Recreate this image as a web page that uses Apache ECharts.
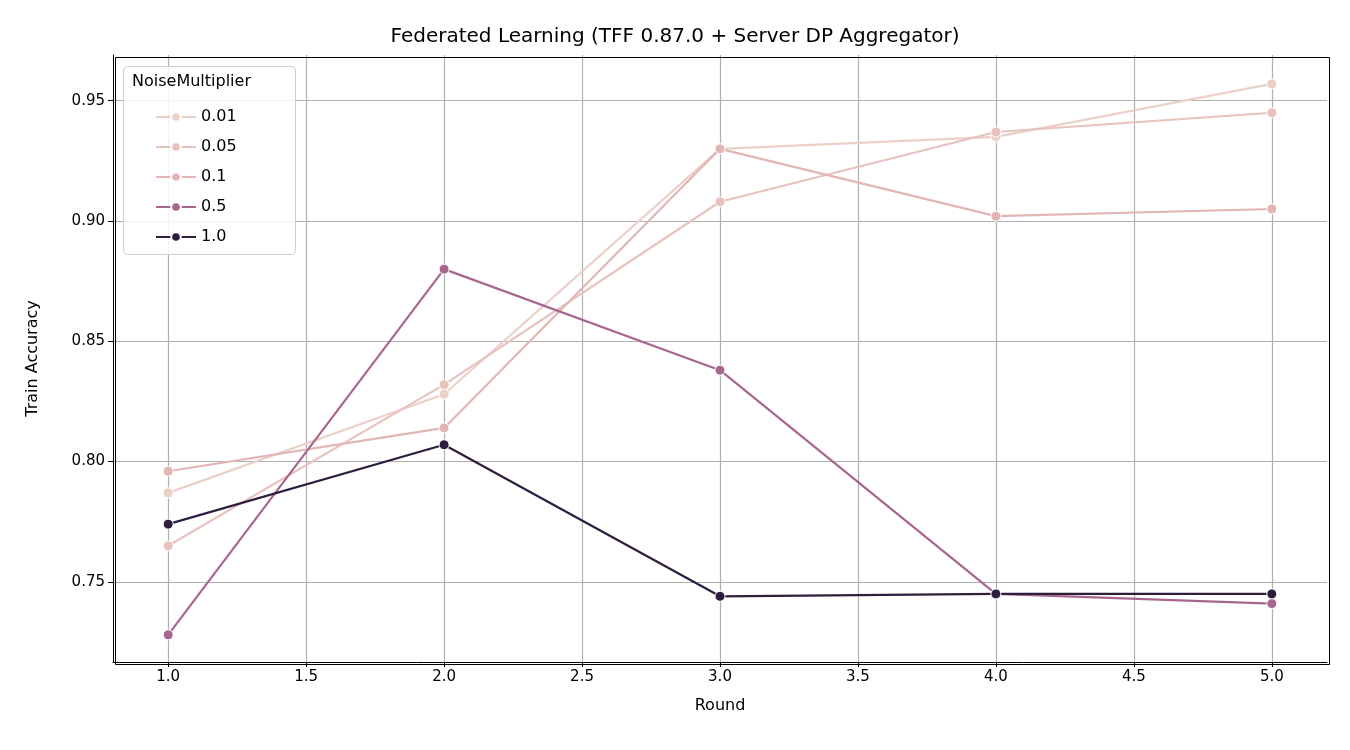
<!DOCTYPE html>
<html>
<head>
<meta charset="utf-8">
<script src="https://cdn.jsdelivr.net/npm/echarts@6/dist/echarts.min.js"></script>
<style>html,body{margin:0;padding:0;background:#fff}#chart{width:1350px;height:750px}</style>
</head>
<body>
<div id="chart"></div>
<script>
// rounds and train accuracy per noise multiplier
const rounds = [1, 2, 3, 4, 5];
const noiseLevels = ['0.01', '0.05', '0.1', '0.5', '1.0'];
const acc001 = [0.787, 0.828, 0.930, 0.935, 0.957];
const acc005 = [0.765, 0.832, 0.908, 0.937, 0.945];
const acc01 = [0.796, 0.814, 0.930, 0.902, 0.905];
const acc05 = [0.728, 0.880, 0.838, 0.745, 0.741];
const acc10 = [0.774, 0.807, 0.744, 0.745, 0.745];
const xTicks = [1.0, 1.5, 2.0, 2.5, 3.0, 3.5, 4.0, 4.5, 5.0];
const yTicks = [0.75, 0.80, 0.85, 0.90, 0.95];

const colors = ['#ebd0c8', '#e8c3bd', '#e3b5b5', '#a8668f', '#2d1e3e'];
const allAcc = [acc001, acc005, acc01, acc05, acc10];

let myChart = echarts.init(document.getElementById('chart'));
let font = 'DejaVu Sans';

let series = noiseLevels.map(function(name, i){
    return {
        name: name,
        type: 'line',
        data: rounds.map(function(r, j){ return [r, allAcc[i][j]]; }),
        symbol: 'circle',
        symbolSize: 10,
        itemStyle: {color: colors[i], borderColor: '#fff', borderWidth: 1},
        lineStyle: {color: colors[i], width: 2.2},
        z: 3 + i
    };
});

let option = {
    animation: false,
    textStyle: {fontFamily: font},
    title: {
        text: 'Federated Learning (TFF 0.87.0 + Server DP Aggregator)',
        left: 'center', top: 22,
        textStyle: {fontFamily: font, fontSize: 20, fontWeight: 'normal', color: '#000'}
    },
    graphic: [
        {type: 'rect', left: 113, top: 55, shape: {width: 1214, height: 607},
         style: {fill: 'none', stroke: '#000', lineWidth: 1}, z: 9, silent: true},
        {type: 'rect', left: 123, top: 66, shape: {width: 172, height: 188, r: 4},
         style: {fill: 'rgba(255,255,255,0.85)', stroke: '#ccc', lineWidth: 1}, z: 10},
        {type: 'text', left: 132, top: 74,
         style: {text: 'NoiseMultiplier', fontFamily: font, fontSize: 16, fill: '#000'}, z: 11}
    ],
    legend: {
        orient: 'vertical', left: 150, top: 104, itemGap: 14,
        itemWidth: 40, itemHeight: 12, z: 12,
        textStyle: {fontFamily: font, fontSize: 16, color: '#000'},
        data: noiseLevels
    },
    grid: {left: 113, right: 23, top: 55, bottom: 88},
    xAxis: {
        type: 'value', min: 0.8, max: 5.2,
        name: 'Round', nameLocation: 'middle', nameGap: 36,
        nameTextStyle: {fontSize: 16, color: '#000'},
        axisLine: {onZero: false, lineStyle: {color: '#000'}},
        axisTick: {show: true, customValues: xTicks, length: 5, lineStyle: {color: '#000'}},
        axisLabel: {customValues: xTicks, fontSize: 15, color: '#000',
                    formatter: function(v){ return v.toFixed(1); }},
        splitLine: {show: true, lineStyle: {color: '#b0b0b0', width: 1.2}}
    },
    yAxis: {
        type: 'value', min: 0.7167, max: 0.969,
        name: 'Train Accuracy', nameLocation: 'middle', nameGap: 72,
        nameTextStyle: {fontSize: 16, color: '#000'},
        axisLine: {show: true, lineStyle: {color: '#000'}},
        axisTick: {show: true, customValues: yTicks, length: 5, lineStyle: {color: '#000'}},
        axisLabel: {customValues: yTicks, fontSize: 15, color: '#000',
                    formatter: function(v){ return v.toFixed(2); }},
        splitLine: {show: true, lineStyle: {color: '#b0b0b0', width: 1.2}}
    },
    series: series
};
myChart.setOption(option);
</script>
</body>
</html>
